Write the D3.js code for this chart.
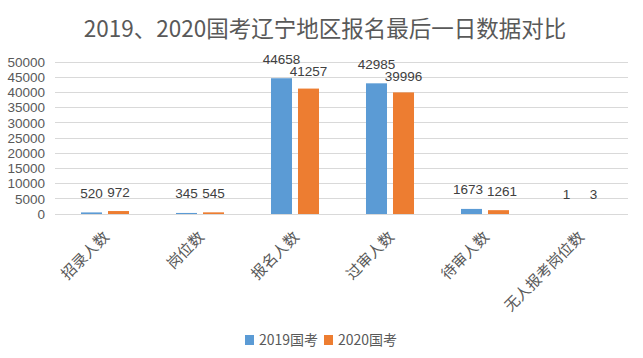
<!DOCTYPE html>
<html><head><meta charset="utf-8">
<script src="https://cdn.jsdelivr.net/npm/d3@7/dist/d3.min.js"></script>
<style>body{margin:0;background:#fff;}svg{display:block;font-family:"Noto Sans CJK SC","Noto Sans",sans-serif;}</style>
</head><body><svg id="c" width="643" height="358"></svg>
<script>
const title = "2019、2020国考辽宁地区报名最后一日数据对比";
const categories = ["招录人数","岗位数","报名人数","过审人数","待审人数","无人报考岗位数"];
const seriesNames = ["2019国考","2020国考"];
const s2019 = [520,345,44658,42985,1673,1];
const s2020 = [972,545,41257,39996,1261,3];
const yTicks = [0,5000,10000,15000,20000,25000,30000,35000,40000,45000,50000];
const colors = ["#5B9BD5","#ED7D31"];

const svg = d3.select("#c");
const m = {l:57.5, r:15.5, t:62, b:144};
const W = 643, H = 358;
const x = d3.scaleBand().domain(categories).range([m.l, W-m.r]).paddingInner(0).paddingOuter(0);
const x1 = d3.scaleBand().domain(seriesNames).range([0, x.bandwidth()]).paddingInner(0.222).paddingOuter(0.87);
const y = d3.scaleLinear().domain([0,50000]).range([H-m.b, m.t]);

svg.append("text").attr("x",325).attr("y",37).attr("text-anchor","middle")
  .attr("font-size",22.5).attr("fill","#595959").text(title);

// grid
svg.append("g").selectAll("line").data(yTicks).join("line")
  .attr("x1",55).attr("x2",W-m.r).attr("y1",d=>y(d)).attr("y2",d=>y(d))
  .attr("stroke","#D9D9D9").attr("stroke-width",1).attr("shape-rendering","crispEdges");

const yAxis = d3.axisLeft(y).tickValues(yTicks).tickSize(0).tickPadding(0).tickFormat(d3.format("d"));
const ga = svg.append("g").attr("transform",`translate(45,0)`).call(yAxis);
ga.select(".domain").remove();
ga.selectAll("text").attr("font-size",13.5).attr("fill","#595959").attr("font-family","'Liberation Sans',sans-serif");

const data = categories.map((c,i)=>({c, vals:[s2019[i], s2020[i]].map((v,j)=>({v,s:seriesNames[j],j}))}));
const g = svg.append("g").selectAll("g").data(data).join("g").attr("transform",d=>`translate(${x(d.c)},0)`);
g.selectAll("rect").data(d=>d.vals).join("rect")
  .attr("x",d=>x1(d.s)).attr("width",x1.bandwidth())
  .attr("y",d=>y(d.v)).attr("height",d=>y(0)-y(d.v)).attr("fill",d=>colors[d.j]);
g.each(function(d){
  const grp = d3.select(this);
  const t = d.vals.map(v=>{
    const cx = x1(v.s)+x1.bandwidth()/2, ly = y(v.v)-14.5;
    const el = grp.append("text").attr("x",cx).attr("y",ly)
      .attr("text-anchor","middle").attr("font-size",13.5).attr("fill","#404040")
      .attr("font-family","'Liberation Sans',sans-serif").text(v.v);
    return {el, cx, ly, w: el.node().getComputedTextLength()};
  });
  // simple label collision avoidance
  const need = (t[0].w + t[1].w)/2 + 4;
  const dx = t[1].cx - t[0].cx;
  if (dx < need) {
    const dy = t[1].ly - t[0].ly;
    if (Math.abs(dy) < 3) {
      const s = (need - dx)/2;
      t[0].el.attr("x", t[0].cx - s); t[1].el.attr("x", t[1].cx + s);
    } else if (Math.abs(dy) < 12.5) {
      if (dy > 0) t[1].el.attr("y", t[0].ly + 12.5); else t[0].el.attr("y", t[1].ly + 12.5);
    }
  }
});

// x labels
svg.append("g").selectAll("text").data(categories).join("text")
  .attr("transform",d=>`translate(${x(d)+x.bandwidth()/2+5},238) rotate(-45)`)
  .attr("text-anchor","end").attr("font-size",15).attr("fill","#595959").text(d=>d);

// legend
const lg = svg.append("g");
const lx = [245, 324];
seriesNames.forEach((s,i)=>{
  lg.append("rect").attr("x",lx[i]).attr("y",335).attr("width",9).attr("height",10).attr("fill",colors[i]);
  lg.append("text").attr("x",lx[i]+14).attr("y",345).attr("font-size",14).attr("fill","#595959").text(s);
});
</script></body></html>
